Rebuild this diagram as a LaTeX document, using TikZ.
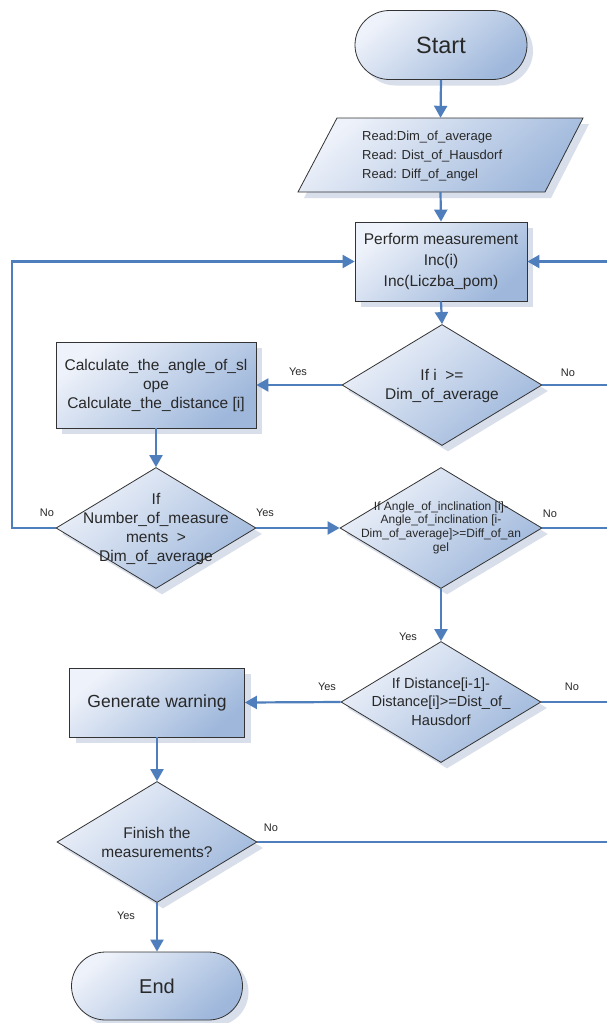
\documentclass[tikz,border=0pt]{standalone}
\usepackage{fontspec}
\setmainfont{Liberation Sans}
\usetikzlibrary{shapes.geometric,shapes.misc,arrows.meta,shadows}
\definecolor{fillA}{RGB}{238,242,250}
\definecolor{fillB}{RGB}{158,183,219}
\definecolor{shadowc}{RGB}{216,223,235}
\definecolor{flowc}{RGB}{79,126,188}
\definecolor{txtc}{RGB}{40,40,40}
\tikzset{
  shapebase/.style={draw=black!80, line width=0.8pt, top color=fillA, bottom color=fillB, shading angle=40,
    drop shadow={shadow xshift=6pt, shadow yshift=-6pt, fill=shadowc, opacity=1}, inner sep=0pt, text=txtc},
  term/.style={shapebase, rounded rectangle, minimum width=172pt, minimum height=69pt},
  procbox/.style={shapebase, rectangle, align=center},
  decision/.style={shapebase, diamond, minimum width=200pt, minimum height=121pt},
  dtext/.style={align=center, inner sep=0pt, text=txtc},
  lab/.style={font=\fontsize{11pt}{13pt}\selectfont, text=txtc, inner sep=0pt},
  flow/.style={draw=flowc, line width=2.2pt, -{Triangle[length=12pt,width=13pt]}},
  rail/.style={draw=flowc, line width=2.2pt},
  fa/.style={font=\fontsize{15.5pt}{19pt}\selectfont}
}
\begin{document}
\begin{tikzpicture}[x=1pt,y=-1pt]
\fill[white] (0,0) rectangle (607,1023);
\useasboundingbox (0,0) rectangle (607,1023);

% Start
\node[term, font=\fontsize{23.5pt}{26pt}\selectfont] (start) at (441,45) {Start};

% Read parallelogram
\path[shapebase] (337,118) -- (583,118) -- (545,192) -- (298,192) -- cycle;
\node[minimum width=247pt, minimum height=74pt, inner sep=0pt] (read) at (440.5,155) {};
\node[anchor=west, align=left, inner sep=0pt, text=txtc, font=\fontsize{13pt}{19pt}\selectfont] (readtxt) at (362,156)
  {Read:Dim\_of\_average\\Read: Dist\_of\_Hausdorf\\Read: Diff\_of\_angel};

% Perform
\node[procbox, minimum width=172pt, minimum height=79pt, font=\fontsize{15.5pt}{21pt}\selectfont] (perf) at (441,261.5)
  {Perform measurement\\Inc(i)\\Inc(Liczba\_pom)};

% If i >=
\node[decision] (ifi) at (442,385) {};
\node[dtext, fa] (ifitxt) at (442,385.5) {If i\ \ >=\\Dim\_of\_average};

% Calculate
\node[procbox, fa, minimum width=200pt, minimum height=86pt] (calc) at (156,385)
  {Calculate\_the\_angle\_of\_sl\\ope\\Calculate\_the\_distance [i]};

% Number of measurements
\node[decision] (num) at (156,528) {};
\node[dtext, fa] (numtxt) at (156,528.5) {If\\Number\_of\_measure\\ments\ \ >\\Dim\_of\_average};

% Angle
\node[decision, minimum width=202pt] (ang) at (441,528) {};
\node[dtext, font=\fontsize{12pt}{13.7pt}\selectfont] (angtxt) at (441,527.5)
  {If Angle\_of\_inclination [i]-\\Angle\_of\_inclination [i-\\Dim\_of\_average]>=Diff\_of\_an\\gel};

% Distance
\node[decision] (dist) at (441,702) {};
\node[dtext, font=\fontsize{14.6pt}{18.5pt}\selectfont] (disttxt) at (441,701.5)
  {If Distance[i-1]-\\Distance[i]>=Dist\_of\_\\Hausdorf};

% Generate warning
\node[procbox, minimum width=175pt, minimum height=69pt, font=\fontsize{17.5pt}{20pt}\selectfont] (warn) at (157,702.5) {Generate warning};

% Finish
\node[decision] (fin) at (157,842) {};
\node[dtext, fa] (fintxt) at (157,842.5) {Finish the\\measurements?};

% End
\node[term, minimum width=171pt, minimum height=68pt, font=\fontsize{20pt}{23pt}\selectfont] (end) at (157,986) {End};

% rails
\coordinate (rrail) at (613,0);
\coordinate (lrail) at (12,0);

% connectors
\draw[flow] (start.south) -- (read.north);
\draw[flow] (read.south) -- (perf.north);
\draw[flow] (perf.south) -- (ifi.north);
\draw[flow] (ifi.west) -- (calc.east);
\draw[flow] (calc.south) -- (num.north);
\draw[flow] (num.east) -- (ang.west);
\draw[flow] (ang.south) -- (dist.north);
\draw[flow] (dist.west) -- (warn.east);
\draw[flow] (warn.south) -- (fin.north);
\draw[flow] (fin.south) -- (end.north);
\draw[flow] (num.west) -- (num.west -| lrail) -- (lrail |- perf.west) -- (perf.west);
\draw[rail] (ifi.east) -- (ifi.east -| rrail);
\draw[rail] (ang.east) -- (ang.east -| rrail);
\draw[rail] (dist.east) -- (dist.east -| rrail);
\draw[rail] (fin.east) -- (fin.east -| rrail);
\draw[flow] (fin.east -| rrail) -- (rrail |- perf.east) -- (perf.east);

% labels
\node[lab] (l1) at (298,372) {Yes};
\node[lab] (l2) at (568,373) {No};
\node[lab] (l3) at (47,513) {No};
\node[lab] (l4) at (265,513) {Yes};
\node[lab] (l5) at (550,514) {No};
\node[lab] (l6) at (408,637) {Yes};
\node[lab] (l7) at (327,687) {Yes};
\node[lab] (l8) at (572,687) {No};
\node[lab] (l9) at (271,828) {No};
\node[lab] (l10) at (126,916) {Yes};
\end{tikzpicture}
\end{document}
